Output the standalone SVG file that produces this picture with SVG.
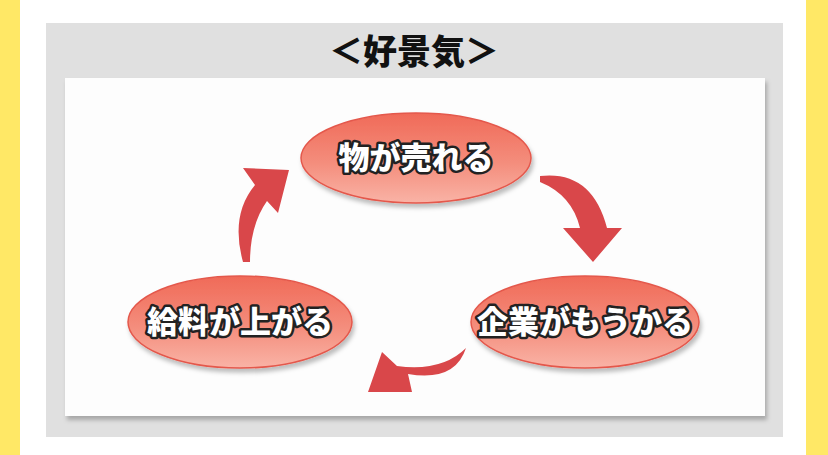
<svg xmlns="http://www.w3.org/2000/svg" width="828" height="455" viewBox="0 0 828 455">
<defs>
<linearGradient id="eg" x1="0" y1="0" x2="0" y2="1">
<stop offset="0" stop-color="#f06a58"/><stop offset="0.55" stop-color="#f48d7c"/><stop offset="1" stop-color="#f9b3a6"/>
</linearGradient>
<filter id="sh" x="-10%" y="-10%" width="130%" height="130%"><feDropShadow dx="2" dy="4" stdDeviation="2" flood-color="#000" flood-opacity="0.25"/></filter>
</defs>
<style>
.el{fill:url(#eg);stroke:#e4584c;stroke-width:1.5;filter:url(#sh)}
.lb{font-family:"Noto Sans CJK JP",sans-serif;font-weight:900;font-size:31px;fill:#fff;stroke:#222;stroke-width:5;paint-order:stroke;stroke-linejoin:round;text-anchor:middle}
.ar{fill:#d9474a}
</style>
<rect width="828" height="455" fill="#fff"/>
<rect x="0" y="0" width="20" height="455" fill="#ffe866"/>
<rect x="806" y="0" width="22" height="455" fill="#ffe866"/>
<rect x="46" y="23" width="737" height="414" fill="#e0e0e0"/>
<rect x="65" y="78" width="700" height="338" fill="#fdfdfd" filter="url(#sh)"/>
<text x="414" y="64" font-family="Noto Sans CJK JP,sans-serif" font-weight="900" font-size="34" text-anchor="middle" fill="#111">＜好景気＞</text>
<g id="connectors">
<path class="ar" d="M540,176 Q592,170 607,228 L622,228 L593,262 L563,228 L580,228 Q572,195 540,182 Z"/>
<path class="ar" d="M243,262 Q230,215 255,185 L243,168 L289,170 L278,213 L267,201 Q250,225 250,262 Z"/>
<path class="ar" d="M466,348 Q455,382 408,374 L412,392 L368,392 L382,352 L397,366 Q442,372 466,348 Z"/>
</g>
<g id="n1"><ellipse class="el" cx="416" cy="158" rx="115" ry="45"/><text class="lb" x="416" y="169">物が売れる</text></g>
<g id="n2"><ellipse class="el" cx="585" cy="322" rx="114" ry="46"/><text class="lb" x="585" y="333">企業がもうかる</text></g>
<g id="n3"><ellipse class="el" cx="240" cy="322" rx="112" ry="46"/><text class="lb" x="240" y="333">給料が上がる</text></g>
</svg>
